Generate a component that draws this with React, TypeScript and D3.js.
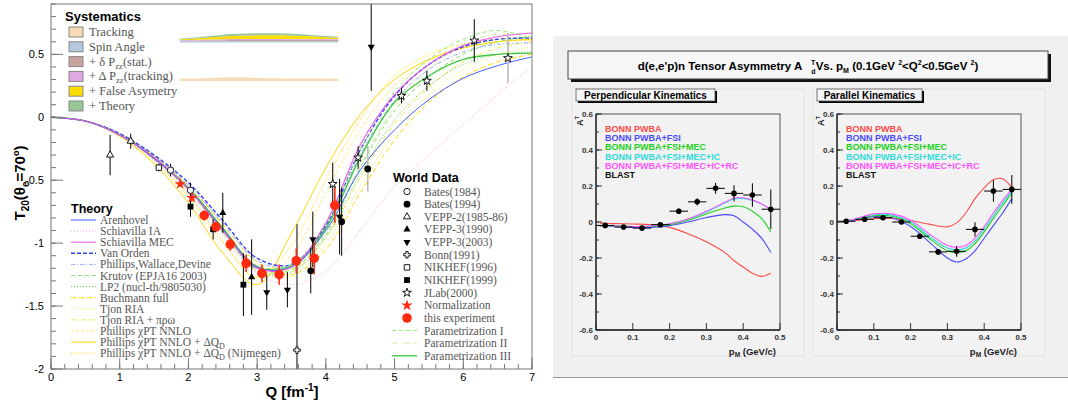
import React from 'react';
import * as d3 from 'd3';

// ---------- left plot: T20 world data ----------
const qGrid = [0, 0.5, 1, 1.5, 2, 2.5, 3, 3.5, 4, 4.5, 5, 5.5, 6, 6.5, 7];
const arenhovel = [0, -0.03, -0.14, -0.33, -0.57, -0.89, -1.19, -1.19, -0.9, -0.42, -0.1, 0.14, 0.31, 0.41, 0.48];
const schiavillaIA = [0, -0.03, -0.15, -0.34, -0.61, -0.95, -1.24, -1.33, -1.22, -0.9, -0.55, -0.3, -0.06, 0.18, 0.4];
const schiavillaMEC = [0, -0.03, -0.14, -0.32, -0.57, -0.9, -1.2, -1.19, -0.84, -0.22, 0.18, 0.42, 0.57, 0.64, 0.67];
const vanOrden = [0, -0.03, -0.13, -0.3, -0.52, -0.82, -1.12, -1.17, -0.86, -0.26, 0.17, 0.42, 0.56, 0.62, 0.63];
const phillipsWD = [0, -0.03, -0.13, -0.31, -0.54, -0.84, -1.14, -1.18, -0.87, -0.3, 0.13, 0.38, 0.52, 0.58, 0.59];
const krutov = [0, -0.03, -0.14, -0.33, -0.58, -0.91, -1.21, -1.21, -0.93, -0.4, 0.05, 0.32, 0.5, 0.6, 0.64];
const lp2 = [0, -0.03, -0.14, -0.33, -0.58, -0.92, -1.22, -1.23, -0.95, -0.45, -0.02, 0.25, 0.42, 0.5, 0.52];
const buchmann = [0, -0.03, -0.13, -0.31, -0.54, -0.85, -1.15, -1.25, -1.05, -0.6, -0.18, 0.12, 0.32, 0.44, 0.5];
const tjonRIA = [0, -0.03, -0.14, -0.33, -0.59, -0.92, -1.22, -1.26, -1.0, -0.55, -0.12, 0.18, 0.38, 0.5, 0.56];
const tjonRIApro = [0, -0.03, -0.14, -0.32, -0.56, -0.88, -1.18, -1.22, -0.96, -0.48, -0.05, 0.24, 0.44, 0.55, 0.6];
const chiPT = [0, -0.03, -0.14, -0.34, -0.62, -0.98, -1.28, -1.1, -0.6, -0.1, 0.25, 0.45, 0.56, 0.6, 0.61];
const chiPTdQ = [0, -0.03, -0.15, -0.37, -0.68, -1.08, -1.33, -0.92, -0.4, 0.02, 0.3, 0.46, 0.55, 0.6, 0.62];
const chiPTnij = [0, -0.03, -0.15, -0.35, -0.64, -1.0, -1.27, -1.02, -0.5, -0.02, 0.33, 0.5, 0.58, 0.62, 0.62];
const paramI = [0, -0.03, -0.14, -0.32, -0.56, -0.88, -1.18, -1.17, -0.85, -0.26, 0.2, 0.46, 0.62, 0.69, 0.62];
const paramII = [0, -0.03, -0.14, -0.32, -0.56, -0.88, -1.19, -1.2, -0.92, -0.38, 0.08, 0.38, 0.58, 0.66, 0.64];
const paramIII = [0, -0.03, -0.14, -0.32, -0.56, -0.88, -1.19, -1.18, -0.88, -0.32, 0.12, 0.33, 0.46, 0.5, 0.51];

const theoryNames = [
  'Arenhovel', 'Schiavilla IA', 'Schiavilla MEC', 'Van Orden', 'Phillips,Wallace,Devine',
  'Krutov (EPJA16 2003)', 'LP2 (nucl-th/9805030)', 'Buchmann full', 'Tjon RIA', 'Tjon RIA + πρω',
  'Phillips  χPT NNLO', 'Phillips  χPT NNLO + ΔQ_{D}', 'Phillips  χPT NNLO + ΔQ_{D} (Nijmegen)',
];
const theoryValues = [arenhovel, schiavillaIA, schiavillaMEC, vanOrden, phillipsWD, krutov, lp2,
  buchmann, tjonRIA, tjonRIApro, chiPT, chiPTdQ, chiPTnij];
const theoryColors = ['#3f5fff', '#f0a0f0', '#ee55ee', '#3344ee', '#99aaff', '#8ee066', '#66cc44',
  '#ffd800', '#eeee40', '#eeee50', '#ffe870', '#ffd700', '#ffe400'];
const theoryDash = ['', '1,2', '', '4,2', '4,2,1,2', '4,3', '1,2', '5,3', '1,2', '5,2,1,2', '3,2', '', '1,1.5'];

const paramNames = ['Parametrization I', 'Parametrization II', 'Parametrization III'];
const paramValues = [paramI, paramII, paramIII];
const paramColors = ['#90ee70', '#d4f0a4', '#44c844'];
const paramDash = ['4,3', '6,2,1,2', ''];

// [Q, T20, error]
const bates1984 = [[1.74, -0.42, 0.05], [2.03, -0.58, 0.06]];
const bates1994 = [[3.78, -1.22, 0.18], [4.23, -0.83, 0.27], [4.61, -0.41, 0.18]];
const vepp2 = [[0.86, -0.3, 0.16], [1.16, -0.19, 0.06]];
const vepp3_1990 = [[2.5, -0.76, 0.16], [2.92, -1.27, 0.3]];
const vepp3_2003 = [[3.14, -1.39, 0.14], [3.44, -1.37, 0.14], [3.81, -0.97, 0.22], [4.2, -0.79, 0.3], [4.66, 0.56, 0.35]];
const bonn1991 = [[3.58, -1.85, 1.0]];
const nikhef1996 = [[1.57, -0.4, 0.03]];
const nikhef1999 = [[2.03, -0.71, 0.08], [2.36, -0.89, 0.08], [2.8, -1.33, 0.25]];
const jlab2000 = [[4.1, -0.53, 0.17], [4.47, -0.32, 0.09], [5.1, 0.17, 0.06], [5.47, 0.29, 0.08], [6.16, 0.61, 0.17], [6.65, 0.47, 0.2]];
const normalization = [[1.88, -0.53, 0.02], [2.05, -0.64, 0.03]];
const thisExperiment = [[2.23, -0.78, 0.04], [2.4, -0.87, 0.04], [2.61, -1.01, 0.05], [2.84, -1.16, 0.07],
  [3.07, -1.24, 0.07], [3.32, -1.25, 0.08], [3.57, -1.14, 0.1], [3.83, -1.12, 0.13], [4.13, -0.7, 0.14]];

const worldNames = ['Bates(1984)', 'Bates(1994)', 'VEPP-2(1985-86)', 'VEPP-3(1990)', 'VEPP-3(2003)',
  'Bonn(1991)', 'NIKHEF(1996)', 'NIKHEF(1999)', 'JLab(2000)', 'Normalization', 'this experiment'];
const worldSets = [bates1984, bates1994, vepp2, vepp3_1990, vepp3_2003, bonn1991, nikhef1996,
  nikhef1999, jlab2000, normalization, thisExperiment];
const worldMarkers = ['openCircle', 'circle', 'openTriangle', 'triangle', 'triangleDown', 'openCross',
  'openSquare', 'square', 'openStar', 'redStar', 'redCircle'];

// systematic error bands
const sysQ = [1.88, 2.05, 2.23, 2.4, 2.61, 2.84, 3.07, 3.32, 3.57, 3.83, 4.18];
const sysTracking = [0.018, 0.02, 0.022, 0.026, 0.03, 0.028, 0.024, 0.022, 0.02, 0.02, 0.018];
const sysSpin = [0.01, 0.01, 0.011, 0.011, 0.012, 0.012, 0.012, 0.012, 0.012, 0.012, 0.012];
const sysStat = [0.004, 0.004, 0.005, 0.005, 0.006, 0.006, 0.007, 0.007, 0.008, 0.008, 0.008];
const sysPzzTrack = [0.004, 0.005, 0.006, 0.007, 0.008, 0.008, 0.008, 0.008, 0.007, 0.007, 0.006];
const sysFalse = [0.006, 0.01, 0.015, 0.02, 0.025, 0.028, 0.03, 0.03, 0.026, 0.02, 0.01];
const sysTheory = [0.006, 0.008, 0.01, 0.012, 0.015, 0.016, 0.016, 0.015, 0.013, 0.01, 0.008];
const sysNames = ['Tracking', 'Spin Angle', '+ δ P_{zz}(stat.)', '+ Δ P_{zz}(tracking)', '+ False Asymetry', '+ Theory'];
const sysColors = ['#f5dcb4', '#b4c8e0', '#c8a09c', '#e0a8e0', '#ffdc00', '#98c898'];

// ---------- right plot: BLAST A_d^T ----------
const modelNames = ['BONN PWBA', 'BONN PWBA+FSI', 'BONN PWBA+FSI+MEC', 'BONN PWBA+FSI+MEC+IC', 'BONN PWBA+FSI+MEC+IC+RC', 'BLAST'];
const modelColors = ['#ff4a4a', '#4a4aff', '#22d022', '#30dada', '#ff55ff', '#111'];

const pPerp = [0.01, 0.05, 0.1, 0.15, 0.2, 0.25, 0.3, 0.35, 0.375, 0.4, 0.425, 0.45, 0.475];
const perpPWBA = [-0.006, -0.009, -0.011, -0.015, -0.03, -0.065, -0.11, -0.17, -0.215, -0.25, -0.285, -0.302, -0.285];
const perpFSI = [-0.022, -0.025, -0.03, -0.03, -0.02, 0.0, 0.025, 0.041, 0.035, 0.0, -0.04, -0.09, -0.17];
const perpMEC = [-0.02, -0.022, -0.025, -0.025, -0.015, 0.01, 0.045, 0.078, 0.088, 0.085, 0.06, 0.02, -0.055];
const perpIC = [-0.02, -0.022, -0.025, -0.022, -0.01, 0.015, 0.055, 0.105, 0.128, 0.13, 0.12, 0.1, 0.07];
const perpRC = [-0.02, -0.022, -0.025, -0.022, -0.01, 0.017, 0.06, 0.11, 0.133, 0.135, 0.123, 0.1, 0.068];

const pPar = [0.01, 0.05, 0.1, 0.15, 0.2, 0.25, 0.3, 0.325, 0.35, 0.375, 0.4, 0.425, 0.45, 0.475];
const parPWBA = [0.0, 0.008, 0.018, 0.02, 0.008, -0.012, -0.027, -0.005, 0.05, 0.13, 0.19, 0.235, 0.24, 0.19];
const parFSI = [0.0, 0.012, 0.03, 0.022, -0.025, -0.11, -0.2, -0.222, -0.205, -0.16, -0.09, -0.02, 0.05, 0.13];
const parMEC = [0.0, 0.015, 0.035, 0.032, -0.01, -0.09, -0.16, -0.17, -0.16, -0.12, -0.055, 0.02, 0.09, 0.16];
const parIC = [0.0, 0.016, 0.04, 0.038, 0.0, -0.078, -0.145, -0.155, -0.145, -0.105, -0.04, 0.035, 0.105, 0.17];
const parRC = [0.0, 0.018, 0.045, 0.045, 0.01, -0.065, -0.13, -0.14, -0.13, -0.09, -0.025, 0.05, 0.12, 0.18];

const pBins = [0.025, 0.075, 0.125, 0.175, 0.225, 0.275, 0.325, 0.375, 0.425, 0.475];
const perpA = [-0.019, -0.028, -0.034, -0.015, 0.06, 0.112, 0.187, 0.159, 0.15, 0.071];
const perpErr = [0.008, 0.008, 0.01, 0.012, 0.015, 0.02, 0.03, 0.045, 0.065, 0.11];
const parA = [0.004, 0.015, 0.024, 0.0, -0.079, -0.166, -0.163, -0.041, 0.172, 0.181];
const parErr = [0.006, 0.007, 0.008, 0.01, 0.012, 0.015, 0.03, 0.04, 0.06, 0.08];

const serif = '"Liberation Serif", "DejaVu Serif", serif';
const sans = '"Liberation Sans", Arial, sans-serif';

// text with _{sub} parts
function rich(s: string) {
  const parts = s.split(/_\{(.*?)\}/);
  return parts.map((p, i) =>
    i % 2 === 1
      ? <tspan key={i} fontSize="0.7em" dy="3">{p}</tspan>
      : <tspan key={i} dy={i > 0 ? -3 : 0}>{p}</tspan>
  );
}

function Marker({ kind, cx, cy }: { kind: string; cx: number; cy: number }) {
  const sym = (t: any, size: number) => d3.symbol().type(t).size(size)() as string;
  const tr = `translate(${cx},${cy})`;
  switch (kind) {
    case 'openCircle': return <circle cx={cx} cy={cy} r={3.2} fill="#fff" stroke="#000" strokeWidth={0.9} />;
    case 'circle': return <circle cx={cx} cy={cy} r={3.4} fill="#000" />;
    case 'openTriangle': return <path d={sym(d3.symbolTriangle, 22)} transform={tr} fill="#fff" stroke="#000" strokeWidth={0.9} />;
    case 'triangle': return <path d={sym(d3.symbolTriangle, 22)} transform={tr} fill="#000" />;
    case 'triangleDown': return <path d={sym(d3.symbolTriangle, 22)} transform={tr + ' rotate(180)'} fill="#000" />;
    case 'openCross': return <path d={sym(d3.symbolCross, 24)} transform={tr} fill="#fff" stroke="#000" strokeWidth={0.9} />;
    case 'openSquare': return <path d={sym(d3.symbolSquare, 30)} transform={tr} fill="#fff" stroke="#000" strokeWidth={0.9} />;
    case 'square': return <path d={sym(d3.symbolSquare, 34)} transform={tr} fill="#000" />;
    case 'openStar': return <path d={sym(d3.symbolStar, 24)} transform={tr} fill="#fff" stroke="#000" strokeWidth={0.9} />;
    case 'redStar': return <path d={sym(d3.symbolStar, 40)} transform={tr} fill="#ff2a10" />;
    case 'redCircle': return <circle cx={cx} cy={cy} r={4.8} fill="#ff2a10" />;
  }
  return null;
}

function LeftPlot() {
  const x = d3.scaleLinear().domain([0, 7]).range([51, 532]);
  const y = d3.scaleLinear().domain([-2, 0.9]).range([369, 4]);
  const line = d3.line<number>().x((_, i) => x(qGrid[i])).y((d) => y(d)).curve(d3.curveCatmullRom.alpha(0.5));

  const table = sysQ.map((q, i) => ({ q, spin: sysSpin[i], stat: sysStat[i], pzz: sysPzzTrack[i], fa: sysFalse[i], th: sysTheory[i] }));
  const stack = d3.stack<any>().keys(['spin', 'stat', 'pzz', 'fa', 'th'])(table);
  const upperBase = 0.595, lowerBase = 0.288;
  const area = d3.area<any>().x((d) => x(d.data.q)).y0((d) => y(upperBase + d[0])).y1((d) => y(upperBase + d[1])).curve(d3.curveMonotoneX);
  const trackArea = d3.area<number>().x((_, i) => x(sysQ[i])).y0(y(lowerBase)).y1((d) => y(lowerBase + d)).curve(d3.curveMonotoneX);

  const drawOrder = [7, 8, 9, 10, 11, 12, 1, 5, 6, 4, 3];
  return (
    <g>
      <defs>
        <clipPath id="lclip"><rect x={51} y={4} width={481} height={365} /></clipPath>
      </defs>
      <g clipPath="url(#lclip)">
        <path d={trackArea(sysTracking) as string} fill={sysColors[0]} />
        {stack.map((s, i) => <path key={i} d={area(s) as string} fill={sysColors[i + 1]} />)}
        {drawOrder.map((i) => (
          <path key={'t' + i} d={line(theoryValues[i]) as string} fill="none" stroke={theoryColors[i]}
            strokeDasharray={theoryDash[i]} strokeWidth={i === 3 ? 1.4 : 1} />
        ))}
        {paramValues.map((v, i) => (
          <path key={'p' + i} d={line(v) as string} fill="none" stroke={paramColors[i]} strokeDasharray={paramDash[i]} strokeWidth={i === 2 ? 1.4 : 1} />
        ))}
        <path d={line(arenhovel) as string} fill="none" stroke={theoryColors[0]} strokeWidth={1} />
        <path d={line(schiavillaMEC) as string} fill="none" stroke={theoryColors[2]} strokeWidth={1.1} />
        {worldSets.map((set, k) => set.map((d, j) => {
          const red = k >= 9;
          const grey = (k === 1 && j === 2) || (k === 8 && j === 5);
          return (
            <line key={`e${k}-${j}`} x1={x(d[0])} x2={x(d[0])} y1={y(d[1] - d[2])} y2={y(d[1] + d[2])}
              stroke={red ? '#ff2a10' : grey ? '#bbb' : '#000'} strokeWidth={red ? 1.6 : grey ? 1.6 : 1} />
          );
        }))}
        {worldSets.map((set, k) => set.map((d, j) => (
          <Marker key={`m${k}-${j}`} kind={worldMarkers[k]} cx={x(d[0])} cy={y(d[1])} />
        )))}
      </g>
      <rect x={51} y={4} width={481} height={365} fill="none" stroke="#777" />
      {y.ticks(29).map((t) => <line key={'ym' + t} x1={51} x2={56} y1={y(t)} y2={y(t)} stroke="#777" />)}
      {y.ticks(6).map((t) => (
        <g key={'y' + t}>
          <line x1={51} x2={63} y1={y(t)} y2={y(t)} stroke="#777" />
          <text x={44} y={y(t) + 4} textAnchor="end" fontFamily={sans} fontSize={11}>{String(t)}</text>
        </g>
      ))}
      {x.ticks(35).map((t) => <line key={'xm' + t} x1={x(t)} x2={x(t)} y1={369} y2={364} stroke="#777" />)}
      {x.ticks(7).map((t) => (
        <g key={'x' + t}>
          <line x1={x(t)} x2={x(t)} y1={369} y2={358} stroke="#777" />
          <text x={x(t)} y={381} textAnchor="middle" fontFamily={sans} fontSize={11}>{String(t)}</text>
        </g>
      ))}
      <text transform="translate(25,183) rotate(-90)" textAnchor="middle" fontFamily={sans} fontWeight="bold" fontSize={15}>
        T<tspan fontSize={10} dy={4}>20</tspan><tspan dy={-4}>(θ</tspan><tspan fontSize={10} dy={4}>e</tspan><tspan dy={-4}>=70</tspan><tspan fontSize={9} dy={-6}>o</tspan><tspan dy={6}>)</tspan>
      </text>
      <text x={292} y={397} textAnchor="middle" fontFamily={sans} fontWeight="bold" fontSize={15}>
        Q [fm<tspan fontSize={10} dy={-6}>-1</tspan><tspan dy={6}>]</tspan>
      </text>

      {/* Systematics legend */}
      <text x={65} y={21} fontFamily={sans} fontWeight="bold" fontSize={13}>Systematics</text>
      {sysNames.map((n, i) => (
        <g key={'s' + i}>
          <rect x={69} y={27 + i * 14.8} width={14} height={10} fill={sysColors[i]} stroke="#888" />
          <text x={89} y={36 + i * 14.8} fontFamily={serif} fontSize={12.5} fill="#555">{rich(n)}</text>
        </g>
      ))}

      {/* Theory legend */}
      <text x={71} y={213} fontFamily={sans} fontWeight="bold" fontSize={12.5}>Theory</text>
      {theoryNames.map((n, i) => (
        <g key={'tl' + i}>
          <line x1={71} x2={96} y1={220 + i * 11.1} y2={220 + i * 11.1} stroke={theoryColors[i]} strokeDasharray={theoryDash[i]} strokeWidth={i === 3 ? 1.4 : 1} />
          <text x={100} y={224 + i * 11.1} fontFamily={serif} fontSize={11.5} fill="#555">{rich(n)}</text>
        </g>
      ))}

      {/* World data legend */}
      <text x={393} y={182} fontFamily={sans} fontWeight="bold" fontSize={12.5}>World Data</text>
      {worldNames.map((n, i) => (
        <g key={'w' + i}>
          <Marker kind={worldMarkers[i]} cx={407} cy={191.5 + i * 12.65} />
          <text x={424} y={195.5 + i * 12.65} fontFamily={serif} fontSize={11.5} fill="#555">{n}</text>
        </g>
      ))}
      {paramNames.map((n, i) => (
        <g key={'pl' + i}>
          <line x1={392} x2={417} y1={330.5 + i * 12.65} y2={330.5 + i * 12.65} stroke={paramColors[i]} strokeDasharray={paramDash[i]} strokeWidth={i === 2 ? 1.4 : 1} />
          <text x={424} y={334.5 + i * 12.65} fontFamily={serif} fontSize={11.5} fill="#555">{n}</text>
        </g>
      ))}
    </g>
  );
}

function Pad({ left, title, titleW, grid, curves, vals, errs }: any) {
  const x = d3.scaleLinear().domain([0, 0.5]).range([left, left + 184]);
  const y = d3.scaleLinear().domain([-0.6, 0.6]).range([330, 114]);
  const line = d3.line<number>().x((_, i) => x(grid[i])).y((d) => y(d)).curve(d3.curveCatmullRom.alpha(0.5));
  const id = 'pc' + left;
  return (
    <g>
      <rect x={left - 24} y={89} width={232} height={267} fill="#f2f2f2" stroke="#e2e2e2" />
      <rect x={left - 18} y={91} width={titleW} height={12} fill="#000" />
      <rect x={left - 20} y={89} width={titleW} height={12} fill="#f6f6f6" stroke="#555" strokeWidth={0.8} />
      <text x={left - 20 + titleW / 2} y={99} textAnchor="middle" fontFamily={sans} fontWeight="bold" fontSize={10}>{title}</text>
      <defs><clipPath id={id}><rect x={left} y={114} width={184} height={216} /></clipPath></defs>
      <rect x={left} y={114} width={184} height={216} fill="#f2f2f2" stroke="#555" />
      <g clipPath={`url(#${id})`}>
        {curves.map((c: number[], i: number) => (
          <path key={i} d={line(c) as string} fill="none" stroke={modelColors[i]} strokeWidth={1.1} />
        ))}
        {pBins.map((p, i) => (
          <g key={'b' + i}>
            <line x1={x(p - 0.025)} x2={x(p + 0.025)} y1={y(vals[i])} y2={y(vals[i])} stroke="#000" />
            <line x1={x(p)} x2={x(p)} y1={y(vals[i] - errs[i])} y2={y(vals[i] + errs[i])} stroke="#000" />
            <circle cx={x(p)} cy={y(vals[i])} r={2.8} fill="#000" />
          </g>
        ))}
      </g>
      <line x1={left} x2={left} y1={114} y2={330} stroke="#222" strokeWidth={1.3} />
      <line x1={left} x2={left + 184} y1={330} y2={330} stroke="#222" strokeWidth={1.3} />
      {y.ticks(12).map((t) => <line key={'ym' + t} x1={left} x2={left + 3} y1={y(t)} y2={y(t)} stroke="#333" />)}
      {y.ticks(6).map((t) => (
        <g key={'y' + t}>
          <line x1={left} x2={left + 6} y1={y(t)} y2={y(t)} stroke="#333" />
          <text x={left - 3} y={y(t) + 3} textAnchor="end" fontFamily={sans} fontWeight="bold" fontSize={8} fill="#333">{String(t)}</text>
        </g>
      ))}
      {x.ticks(5).map((t) => (
        <g key={'x' + t}>
          <line x1={x(t)} x2={x(t)} y1={330} y2={323} stroke="#333" />
          <text x={x(t)} y={340} textAnchor="middle" fontFamily={sans} fontWeight="bold" fontSize={8} fill="#333">{String(t)}</text>
        </g>
      ))}
      <text x={left + 180} y={355} textAnchor="end" fontFamily={sans} fontWeight="bold" fontSize={9.5} fill="#222">
        p<tspan fontSize={6.5} dy={2}>M</tspan><tspan dy={-2}> (GeV/c)</tspan>
      </text>
      <text transform={`translate(${left - 13},121) rotate(-90)`} textAnchor="middle" fontFamily={sans} fontWeight="bold" fontSize={9} fill="#222">
        A<tspan fontSize={6} dy={-4}>T</tspan>
      </text>
      {modelNames.map((n, i) => (
        <text key={n} x={left + 9} y={132 + i * 9.2} fontFamily={sans} fontWeight="bold" fontSize={9} fill={modelColors[i]}>{n}</text>
      ))}
    </g>
  );
}

function RightPlot() {
  return (
    <g>
      <rect x={553} y={36} width={515} height={342} fill="#f0f0f0" />
      <line x1={553} x2={1068} y1={377.5} y2={377.5} stroke="#999" />
      <rect x={571} y={54} width={480} height={28} fill="#111" />
      <rect x={568} y={51} width={480} height={28} fill="#f6f6f6" stroke="#444" />
      <text x={808} y={70} textAnchor="middle" fontFamily={sans} fontWeight="bold" fontSize={11.5}>
        d(e,e'p)n Tensor Asymmetry A <tspan fontSize={7} dx={6} dy={-5}>T</tspan><tspan fontSize={7} dx={-4} dy={9}>d</tspan><tspan dy={-4}>Vs. p</tspan><tspan fontSize={7} dy={3}>M</tspan><tspan dy={-3}> (0.1GeV </tspan><tspan fontSize={7} dy={-5}>2</tspan><tspan dy={5}>&lt;Q</tspan><tspan fontSize={7} dy={-5}>2</tspan><tspan dy={5}>&lt;0.5GeV </tspan><tspan fontSize={7} dy={-5}>2</tspan><tspan dy={5}>)</tspan>
      </text>
      <Pad left={596} title="Perpendicular Kinematics" titleW={139} grid={pPerp}
        curves={[perpPWBA, perpFSI, perpMEC, perpIC, perpRC]} vals={perpA} errs={perpErr} />
      <Pad left={837} title="Parallel Kinematics" titleW={105} grid={pPar}
        curves={[parPWBA, parFSI, parMEC, parIC, parRC]} vals={parA} errs={parErr} />
    </g>
  );
}

export default function App() {
  return (
    <svg width={1068} height={403} style={{ position: 'absolute', left: 0, top: 0, background: '#fff' }}>
      <LeftPlot />
      <RightPlot />
    </svg>
  );
}
